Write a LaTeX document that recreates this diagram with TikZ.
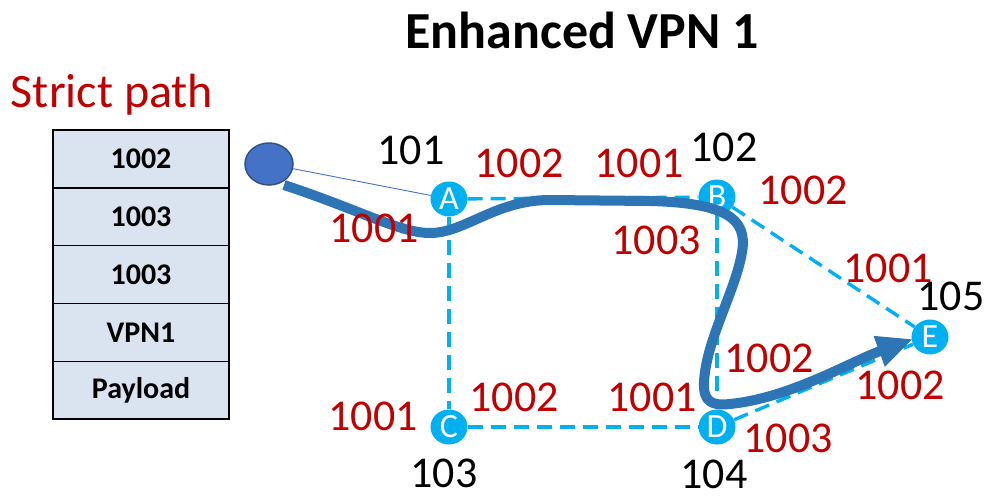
\documentclass[tikz,border=0pt]{standalone}
\usepackage{fontspec}
\setmainfont{Carlito}
\usetikzlibrary{arrows.meta,shapes.geometric}
\definecolor{lblred}{HTML}{C00000}
\definecolor{nodecyan}{HTML}{00B0F0}
\definecolor{pathblue}{HTML}{2E75B6}
\definecolor{srcblue}{HTML}{4472C4}
\definecolor{srcedge}{HTML}{2F528F}
\definecolor{stackfill}{HTML}{DAE3F0}
\begin{document}
\begin{tikzpicture}[x=1pt,y=-1pt,
  router/.style={ellipse, fill=nodecyan, minimum width=37pt, minimum height=35pt, inner sep=0pt, text=white, font=\fontsize{34}{34}\selectfont},
  link/.style={draw=nodecyan, dash pattern=on 15pt off 8pt, line width=3.4pt},
  lbl/.style={text=lblred, font=\fontsize{44}{44}\selectfont, inner sep=0pt},
  nlbl/.style={text=black, font=\fontsize{44}{44}\selectfont, inner sep=0pt},
  stackcell/.style={draw=black, line width=1.5pt, fill=stackfill, minimum width=176pt, minimum height=57.8pt, inner sep=0pt, font=\fontsize{30}{30}\selectfont\bfseries},
  route/.style={draw=pathblue, line width=10pt, line cap=butt}
]
\useasboundingbox (0,0) rectangle (987,498);

% title
\node[font=\fontsize{52}{52}\selectfont\bfseries, inner sep=0pt] (title) at (582,30) {Enhanced VPN 1};
\node[text=lblred, font=\fontsize{48}{48}\selectfont, inner sep=0pt] (strict) at (112,95) {Strict path};

% stack
\node[stackcell] (s1) at (141,159.0) {1002};
\node[stackcell] (s2) at (141,216.8) {1003};
\node[stackcell] (s3) at (141,274.6) {1003};
\node[stackcell] (s4) at (141,332.4) {VPN1};
\node[stackcell] (s5) at (141,390.2) {Payload};

% routers
\node[router] (A) at (449,199) {A};
\node[router] (B) at (717,197) {B};
\node[router] (C) at (449,427) {C};
\node[router] (D) at (717,427) {D};
\node[router] (E) at (930,337) {E};

% source
\node[ellipse, draw=srcedge, line width=1.5pt, fill=srcblue, minimum width=48pt, minimum height=42pt, inner sep=0pt] (S) at (269,164) {};

% links
\draw[link] (A) -- (B);
\draw[link] (A) -- (C);
\draw[link] (C) -- (D);
\draw[link] (B) -- (D);
\draw[link] (B) -- (E);
\draw[link] (D) -- (E);
\draw[srcblue, line width=0.9pt] (S) -- (A);

% strict path route
\coordinate (r0) at (284,185);
\coordinate (tip) at (913,339);
\draw[route, -{Triangle[length=36pt,width=30pt]}]
  (r0) .. controls (360,210) and (400,233) .. (430,233)
  .. controls (465,233) and (495,200) .. (550,200)
  -- (650,201)
  .. controls (725,203) and (748,218) .. (742,252)
  .. controls (736,290) and (706,340) .. (704,382)
  .. controls (703,402) and (712,406) .. (730,404)
  .. controls (790,398) and (850,362) .. (tip);

% node numbers
\node[nlbl] (n101) at (411,150) {101};
\node[nlbl] (n102) at (724,147) {102};
\node[nlbl] (n103) at (444,473) {103};
\node[nlbl] (n104) at (714,474) {104};
\node[nlbl] (n105) at (951,296) {105};

% labels
\node[lbl] (lA1) at (374,228) {1001};
\node[lbl] (lA2) at (519,163) {1002};
\node[lbl] (lB1) at (639,163) {1001};
\node[lbl] (lB2) at (803,190) {1002};
\node[lbl] (lB3) at (656,240) {1003};
\node[lbl] (lE1) at (888,268) {1001};
\node[lbl] (lE2) at (900,385) {1002};
\node[lbl] (lD2) at (769,358) {1002};
\node[lbl] (lC1) at (373,416) {1001};
\node[lbl] (lC2) at (514,397) {1002};
\node[lbl] (lD1) at (652,397) {1001};
\node[lbl] (lD3) at (788,438) {1003};
\end{tikzpicture}
\end{document}
